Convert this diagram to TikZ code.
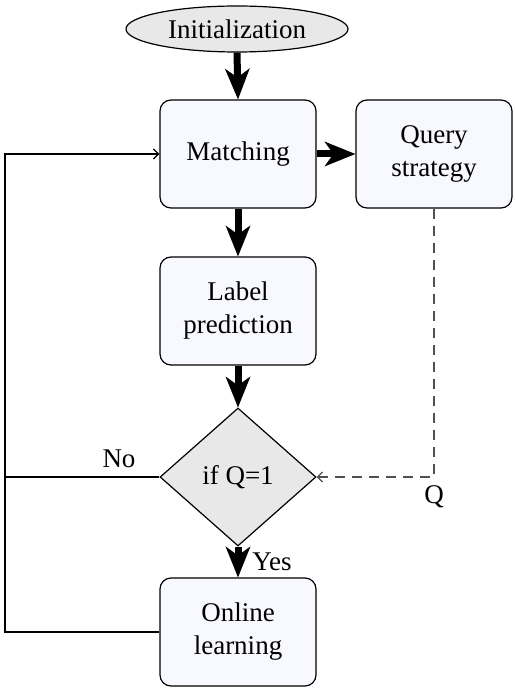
\documentclass[tikz,border=0pt]{standalone}
\usepackage{fontspec}
\setmainfont{Liberation Serif}
\usetikzlibrary{shapes.geometric,arrows.meta}
\begin{document}
\begin{tikzpicture}[x=1pt,y=-1pt,
  every node/.style={font=\fontsize{27}{33}\selectfont},
  box/.style={draw=black,line width=1.2pt,rounded corners=11pt,fill=boxfill,
    minimum width=156pt,minimum height=108pt,inner sep=0pt,align=center},
  startnode/.style={draw=black,line width=1.2pt,ellipse,fill=grayfill,
    minimum width=222pt,minimum height=46pt,inner sep=0pt},
  decision/.style={draw=black,line width=1.2pt,diamond,fill=grayfill,
    minimum width=156pt,minimum height=138pt,inner sep=0pt,aspect=1.13},
  bigarrow/.style={line width=7pt,-{Stealth[length=31pt,width=25pt,inset=9pt,line width=0pt]}},
  thinarrow/.style={line width=1.3pt,-{Straight Barb[length=5pt,width=10pt,line width=1.3pt]}},
  dasharrow/.style={line width=1.3pt,draw=darkgray,dash pattern=on 10pt off 7pt,
    -{Straight Barb[length=5pt,width=10pt,line width=1.3pt,sep=0pt]}},
  plain/.style={line width=1.3pt}
]
\definecolor{boxfill}{HTML}{F8F8FF}
\definecolor{grayfill}{HTML}{E8E8E8}
\definecolor{darkgray}{HTML}{505050}
\useasboundingbox (0,0) rectangle (514,692);
\node[startnode] (init) at (237,29) {Initialization};
\node[box] (match) at (238,154) {Matching};
\node[box] (query) at (434,154) {Query\\strategy};
\node[box] (label) at (238,311) {Label\\prediction};
\node[decision] (dia) at (238,477) {if Q=1};
\node[box] (online) at (238,632) {Online\\learning};
\coordinate (lx) at (5,0);
\node (no) at (119,459) {No};
\node (yes) at (272,562) {Yes};
\node (q) at (434,497) {Q};
\draw[bigarrow] (init.south) -- (match.north);
\draw[bigarrow] (match.east) -- (query.west);
\draw[bigarrow] (match.south) -- (label.north);
\draw[bigarrow] (label.south) -- (dia.north);
\draw[bigarrow] (dia.south) -- (online.north);
\draw[thinarrow] (online.west) -- (online.west -| lx) |- (match.west);
\draw[plain] (dia.west) -- (dia.west -| lx);
\draw[dasharrow] (query.south) |- (dia.east);
\end{tikzpicture}
\end{document}
